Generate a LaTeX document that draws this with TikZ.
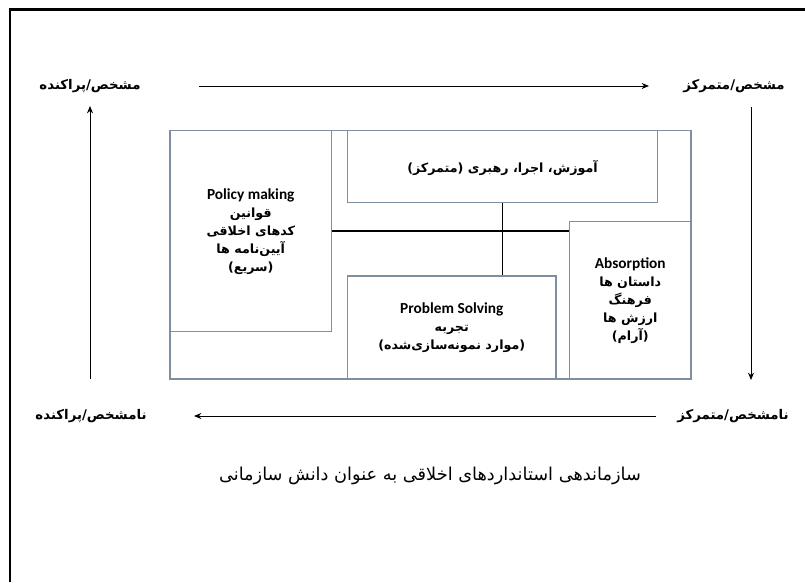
\documentclass[tikz,border=0pt]{standalone}
\usepackage{fontspec}
\setmainfont{Carlito}
\newfontfamily\persianfont[Script=Arabic]{DejaVu Sans}
\TeXXeTstate=1
\usetikzlibrary{arrows.meta,fit}
\newcommand{\fatx}[1]{{\persianfont\bfseries\beginR #1\endR}}
\newcommand{\fabx}[1]{{\persianfont\bfseries\fontsize{9.5}{13.5}\selectfont\beginR #1\endR}}
\definecolor{boxc}{RGB}{128,142,162}
\tikzset{
  box/.style={draw=boxc, line width=0.8pt, inner sep=0pt},
  lab/.style={inner sep=0pt, font=\fontsize{10}{12}\selectfont},
  btext/.style={align=center, inner sep=0pt, font=\fontsize{11.5}{13.5}\bfseries\selectfont},
  arr/.style={-{Stealth[length=5.5pt,width=4.5pt]}, line width=0.75pt},
  conn/.style={line width=1pt, draw=black},
}
\begin{document}
\begin{tikzpicture}[x=0.75pt,y=-0.75pt]
\useasboundingbox (0,0) rectangle (805,582);
% outer frame (top and left only)
\draw[line width=1.6pt] (10,582) -- (10,9.5) -- (805,9.5);

% corner labels
\node[lab] (tl) at (90,86) {\fatx{مشخص/پراکنده}};
\node[lab] (tr) at (734,86) {\fatx{مشخص/متمرکز}};
\node[lab] (bl) at (91,416) {\fatx{نامشخص/پراکنده}};
\node[lab] (br) at (733,416) {\fatx{نامشخص/متمرکز}};

% arrows
\coordinate (ta1) at (199,86);  \coordinate (ta2) at (649,86);
\coordinate (ra1) at (751,107); \coordinate (ra2) at (751,380);
\coordinate (ba1) at (656,416); \coordinate (ba2) at (194,416);
\coordinate (la1) at (90,379);  \coordinate (la2) at (90,106);
\draw[arr] (ta1) -- (ta2);
\draw[arr] (ra1) -- (ra2);
\draw[arr] (ba1) -- (ba2);
\draw[arr] (la1) -- (la2);

% boxes
\node[box, fit={(170,130.5) (691,379)}] (outer) {};
\node[box, fit={(170,130.5) (331.5,331.5)}] (pol) {};
\node[box, fit={(347.5,130.5) (657.5,202.5)}] (edu) {};
\node[box, fit={(347.5,276) (556,379)}] (ps) {};
\node[box, fit={(569.5,221.5) (691,379)}] (abs) {};

% connectors
\draw[conn] (pol.east) -- (pol.east -| abs.west);
\draw[conn] (edu.south) -- (edu.south |- ps.north);

% box texts
\node[btext] (polt) at ([yshift=-0.8pt]pol.center) {Policy making\\ \fabx{قوانین}\\ \fabx{کدهای اخلاقی}\\ \fabx{آیین‌نامه ها}\\ \fabx{(سریع)}};
\node[btext] (edut) at ([yshift=-1pt]edu.center) {\fabx{آموزش، اجرا، رهبری (متمرکز)}};
\node[btext] (pst) at (ps.center) {Problem Solving\\ \fabx{تجربه}\\ \fabx{(موارد نمونه‌سازی‌شده)}};
\node[btext] (abst) at (abs.center) {Absorption\\ \fabx{داستان ها}\\ \fabx{فرهنگ}\\ \fabx{ارزش ها}\\ \fabx{(آرام)}};

% caption
\node[inner sep=0pt, font=\fontsize{13.3}{15}\selectfont] (cap) at (430,476) {{\persianfont\beginR سازماندهی استانداردهای اخلاقی به عنوان دانش سازمانی\endR}};
\end{tikzpicture}
\end{document}
